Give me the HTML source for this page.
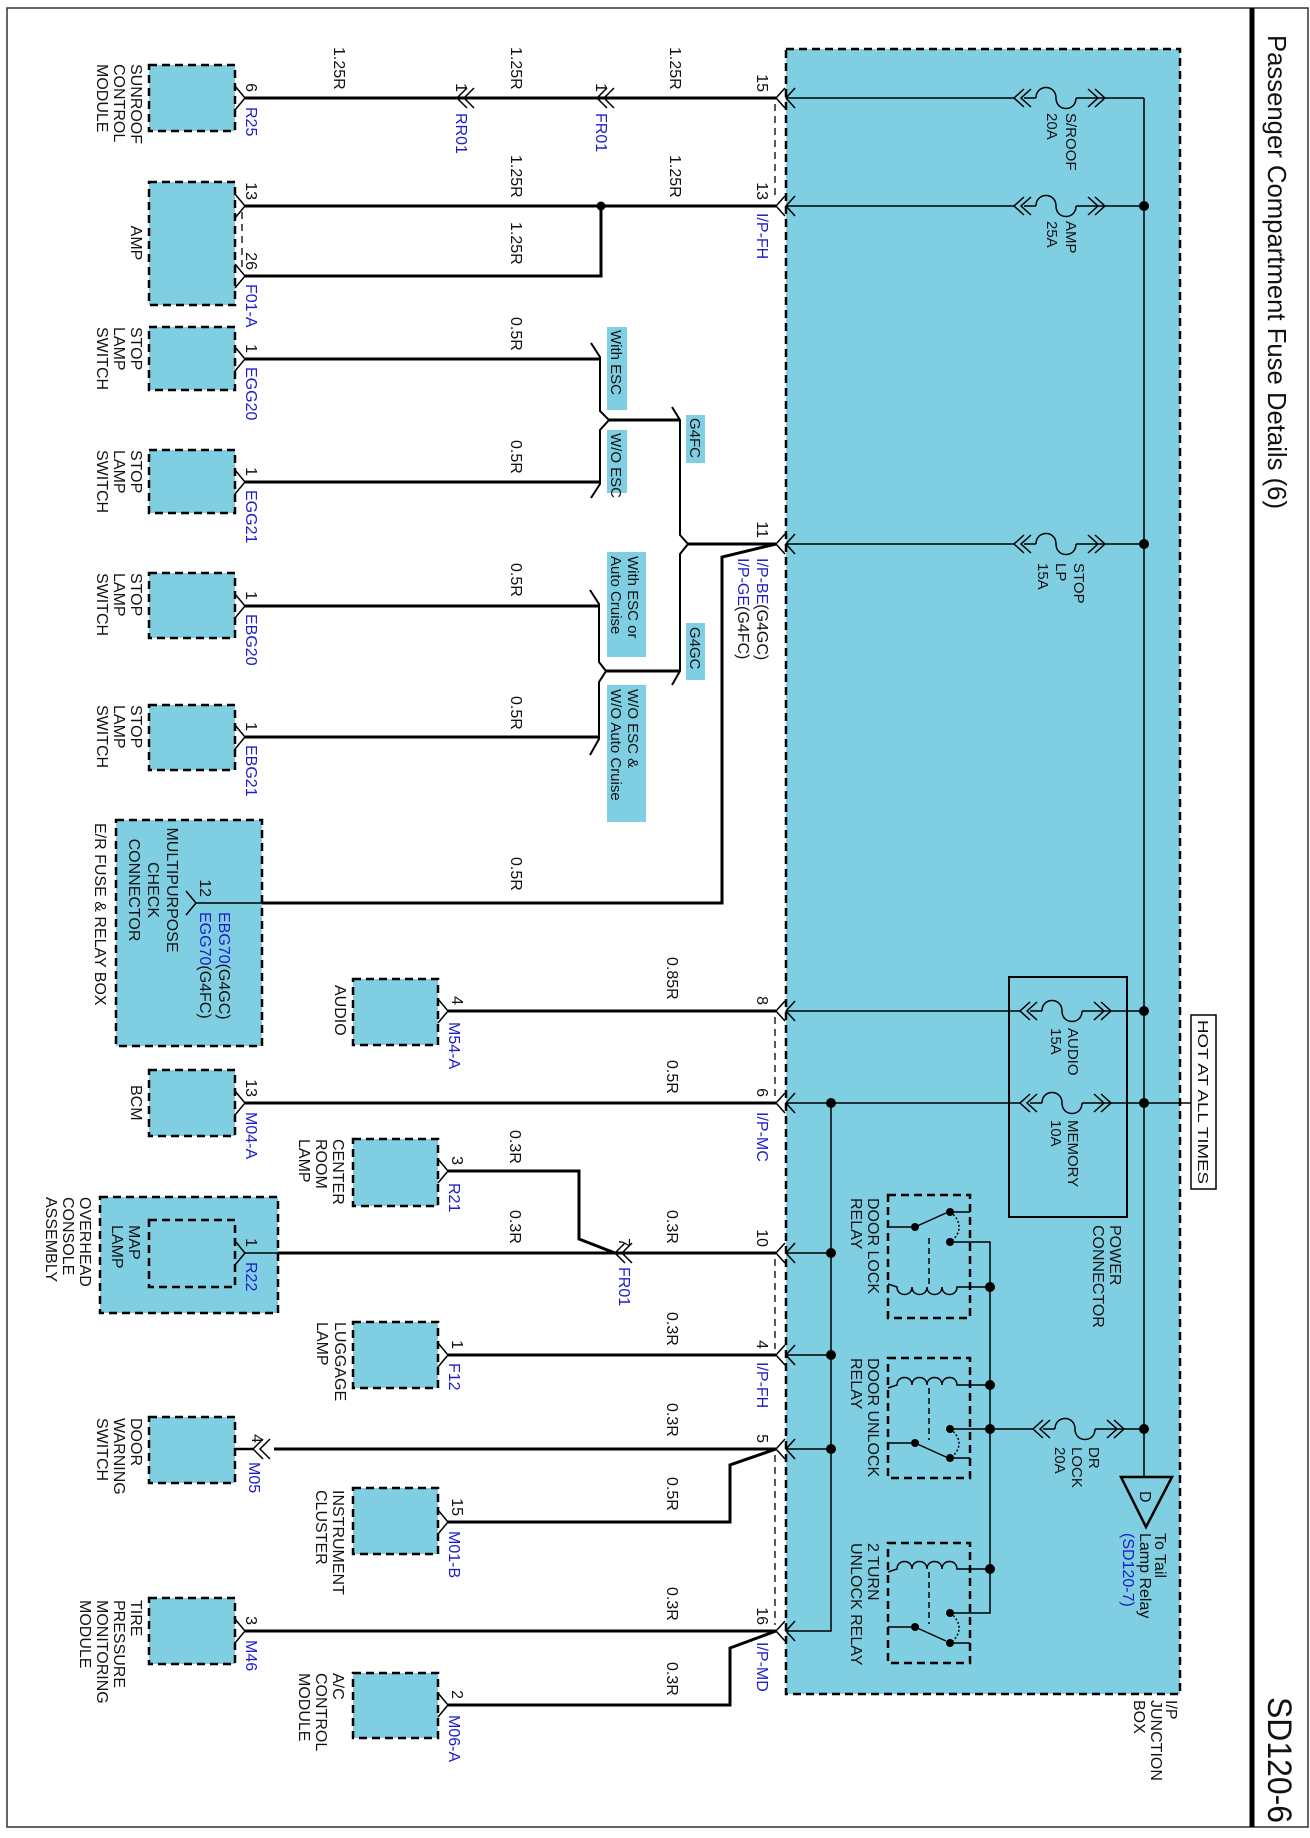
<!DOCTYPE html>
<html><head><meta charset="utf-8"><style>
html,body{margin:0;padding:0;background:#fff}
svg{display:block}
text{font-family:"Liberation Sans",Arial,sans-serif;font-size:16px;fill:#111}
.b{fill:#1c1cc8}
.s{font-size:15px}
.wl text{font-size:16px}
.w{stroke:#000;stroke-width:3;fill:none}
.n{stroke:#000;stroke-width:1.5;fill:none}
.box{fill:#80cee1;stroke:#000;stroke-width:2.5;stroke-dasharray:8,5}
.dl{stroke:#000;stroke-width:1.3;stroke-dasharray:7,5;fill:none}
</style></head><body>
<svg width="1310" height="1838" viewBox="0 0 1310 1838" xmlns="http://www.w3.org/2000/svg">
<rect x="7" y="8" width="1301" height="1819" fill="none" stroke="#333" stroke-width="1.5"/>
<line x1="1252" y1="8" x2="1252" y2="1827" stroke="#000" stroke-width="5"/>
<text transform="translate(1268,35) rotate(90)" style="font-size:26px" textLength="474" lengthAdjust="spacingAndGlyphs">Passenger Compartment Fuse Details (6)</text>
<text transform="translate(1268,1697) rotate(90)" style="font-size:34px" textLength="126" lengthAdjust="spacingAndGlyphs">SD120-6</text>

<rect class="box" x="786" y="49" width="394" height="1645"/>

<rect class="box" x="149" y="65" width="86" height="66"/>
<rect class="box" x="149" y="182" width="86" height="123"/>
<rect class="box" x="149" y="327" width="86" height="63"/>
<rect class="box" x="149" y="450" width="86" height="63"/>
<rect class="box" x="149" y="573" width="86" height="65"/>
<rect class="box" x="149" y="705" width="86" height="65"/>
<rect class="box" x="116" y="820" width="146" height="226"/>
<rect class="box" x="353" y="979" width="85" height="66"/>
<rect class="box" x="149" y="1070" width="86" height="66"/>
<rect class="box" x="353" y="1139" width="85" height="67"/>
<rect class="box" x="100" y="1197" width="178" height="116"/>
<rect class="box" x="149" y="1220" width="86" height="67"/>
<rect class="box" x="353" y="1322" width="85" height="66"/>
<rect class="box" x="149" y="1417" width="86" height="66"/>
<rect class="box" x="353" y="1488" width="85" height="66"/>
<rect class="box" x="149" y="1598" width="86" height="66"/>
<rect class="box" x="353" y="1673" width="85" height="65"/>

<g class="n">
<polyline points="235,86 245,98 235,110"/>
<polyline points="235,194 245,206 235,218"/>
<polyline points="235,264 245,276 235,288"/>
<polyline points="235,347 245,359 235,371"/>
<polyline points="235,470 245,482 235,494"/>
<polyline points="235,594 245,606 235,618"/>
<polyline points="235,725 245,737 235,749"/>
<polyline points="186,891 196,903 186,915"/>
<polyline points="438,999 448,1011 438,1023"/>
<polyline points="235,1091 245,1103 235,1115"/>
<polyline points="438,1159 448,1171 438,1183"/>
<polyline points="235,1241 245,1253 235,1265"/>
<polyline points="438,1343 448,1355 438,1367"/>
<polyline points="438,1510 448,1522 438,1534"/>
<polyline points="235,1619 245,1631 235,1643"/>
<polyline points="438,1693 448,1705 438,1717"/>
<line x1="242" y1="212" x2="242" y2="270" class="dl"/>
<polyline points="467,88 457,98 467,108"/><polyline points="474,88 464,98 474,108"/>
<polyline points="607,88 597,98 607,108"/><polyline points="614,88 604,98 614,108"/>
<polyline points="625,1243 615,1253 625,1263"/><polyline points="632,1243 622,1253 632,1263"/>
<polyline points="263,1439 253,1449 263,1459"/><polyline points="270,1439 260,1449 270,1459"/>
<line x1="235" y1="1449" x2="253" y2="1449" style="stroke-width:2.5"/>
</g>

<g class="n">
<polyline points="785,88 776,98 785,108"/><polyline points="795,88 786,98 795,108"/>
<polyline points="785,196 776,206 785,216"/><polyline points="795,196 786,206 795,216"/>
<polyline points="785,534 776,544 785,554"/><polyline points="795,534 786,544 795,554"/>
<polyline points="785,1001 776,1011 785,1021"/><polyline points="795,1001 786,1011 795,1021"/>
<polyline points="785,1093 776,1103 785,1113"/><polyline points="795,1093 786,1103 795,1113"/>
<polyline points="785,1243 776,1253 785,1263"/><polyline points="795,1243 786,1253 795,1263"/>
<polyline points="785,1345 776,1355 785,1365"/><polyline points="795,1345 786,1355 795,1365"/>
<polyline points="785,1439 776,1449 785,1459"/><polyline points="795,1439 786,1449 795,1459"/>
<polyline points="785,1621 776,1631 785,1641"/><polyline points="795,1621 786,1631 795,1641"/>
</g>
<line x1="775" y1="104" x2="775" y2="200" class="dl"/>
<line x1="775" y1="1017" x2="775" y2="1097" class="dl"/>
<line x1="775" y1="1259" x2="775" y2="1349" class="dl"/>
<line x1="775" y1="1455" x2="775" y2="1625" class="dl"/>

<g class="w">
<line x1="245" y1="98" x2="776" y2="98"/>
<line x1="245" y1="206" x2="776" y2="206"/>
<polyline points="601,206 601,276 245,276"/>
<line x1="245" y1="359" x2="600" y2="359"/>
<line x1="245" y1="482" x2="600" y2="482"/>
<line x1="245" y1="606" x2="599" y2="606"/>
<line x1="245" y1="737" x2="599" y2="737"/>
<line x1="609" y1="420" x2="680" y2="420"/>
<line x1="606" y1="671" x2="680" y2="671"/>
<line x1="688" y1="544" x2="776" y2="544"/>
<polyline points="776,544 722,557 722,903 262,903"/>
<line x1="448" y1="1011" x2="776" y2="1011"/>
<line x1="245" y1="1103" x2="776" y2="1103"/>
<polyline points="448,1171 579,1171 579,1239 615,1253"/>
<line x1="278" y1="1253" x2="776" y2="1253"/>
<line x1="448" y1="1355" x2="776" y2="1355"/>
<line x1="274" y1="1449" x2="776" y2="1449"/>
<polyline points="776,1449 730,1465 730,1522 448,1522"/>
<line x1="245" y1="1631" x2="776" y2="1631"/>
<polyline points="776,1631 730,1648 730,1705 448,1705"/>
</g>
<line x1="196" y1="903" x2="262" y2="903" class="n"/>
<line x1="245" y1="1253" x2="278" y2="1253" class="n"/>
<circle cx="601" cy="206" r="4.5"/>

<g class="n" style="stroke-width:2">
<polyline points="591,343 600,357 600,411 609,420 600,430 600,484 591,498"/>
<polyline points="590,590 599,604 599,662 606,671 599,682 599,739 590,755"/>
<polyline points="672,407 680,420 680,535 688,544 680,554 680,671 672,685"/>
</g>
<g>
<rect x="607" y="327" width="20" height="83" fill="#80cee1"/>
<rect x="607" y="430" width="20" height="63" fill="#80cee1"/>
<rect x="686" y="415" width="19" height="48" fill="#80cee1"/>
<rect x="686" y="623" width="19" height="57" fill="#80cee1"/>
<rect x="607" y="552" width="39" height="105" fill="#80cee1"/>
<rect x="607" y="685" width="39" height="137" fill="#80cee1"/>
</g>
<g>
<text class="s" transform="translate(611,330) rotate(90)">With ESC</text>
<text class="s" transform="translate(611,433) rotate(90)">W/O ESC</text>
<text class="s" transform="translate(690,418) rotate(90)">G4FC</text>
<text class="s" transform="translate(690,627) rotate(90)">G4GC</text>
<text class="s" transform="translate(628,556) rotate(90)">With ESC or</text>
<text class="s" transform="translate(611,556) rotate(90)">Auto Cruise</text>
<text class="s" transform="translate(628,689) rotate(90)">W/O ESC &amp;</text>
<text class="s" transform="translate(611,689) rotate(90)">W/O Auto Cruise</text>
</g>

<g class="n">
<line x1="786" y1="98" x2="1014" y2="98"/><line x1="1105" y1="98" x2="1144" y2="98"/>
<line x1="786" y1="206" x2="1014" y2="206"/><line x1="1105" y1="206" x2="1144" y2="206"/>
<line x1="786" y1="544" x2="1014" y2="544"/><line x1="1105" y1="544" x2="1144" y2="544"/>
<line x1="786" y1="1011" x2="1020" y2="1011"/><line x1="1111" y1="1011" x2="1144" y2="1011"/>
<line x1="786" y1="1103" x2="1020" y2="1103"/><line x1="1111" y1="1103" x2="1191" y2="1103"/>
<line x1="786" y1="1253" x2="831" y2="1253"/>
<line x1="786" y1="1355" x2="831" y2="1355"/>
<line x1="786" y1="1449" x2="831" y2="1449"/>
<polyline points="786,1631 831,1631 831,1103"/>
<line x1="1144" y1="98" x2="1144" y2="1477"/>
<line x1="990" y1="1429" x2="1033" y2="1429"/><line x1="1124" y1="1429" x2="1144" y2="1429"/>
<polyline points="950,1242 990,1242 990,1613 950,1613"/>
<line x1="950" y1="1429" x2="990" y2="1429"/>
</g>
<rect x="1009" y="977" width="118" height="240" fill="none" stroke="#000" stroke-width="2"/>
<rect x="1191" y="1015" width="25" height="174" fill="#fff" stroke="#000" stroke-width="1.5"/>
<text class="s" transform="translate(1198,1020) rotate(90)" textLength="164" lengthAdjust="spacingAndGlyphs">HOT AT ALL TIMES</text>

<g class="n">
<g transform="translate(1014,98)"><polyline points="10,-9 0,0 10,9"/><polyline points="17,-9 7,0 17,9"/><line x1="10" y1="0" x2="22" y2="0"/><path d="M22,0 C22,-14 42,-14 42,0 C42,14 62,14 62,0"/><line x1="62" y1="0" x2="91" y2="0"/><polyline points="74,-9 84,0 74,9"/><polyline points="81,-9 91,0 81,9"/></g>
<g transform="translate(1014,206)"><polyline points="10,-9 0,0 10,9"/><polyline points="17,-9 7,0 17,9"/><line x1="10" y1="0" x2="22" y2="0"/><path d="M22,0 C22,-14 42,-14 42,0 C42,14 62,14 62,0"/><line x1="62" y1="0" x2="91" y2="0"/><polyline points="74,-9 84,0 74,9"/><polyline points="81,-9 91,0 81,9"/></g>
<g transform="translate(1014,544)"><polyline points="10,-9 0,0 10,9"/><polyline points="17,-9 7,0 17,9"/><line x1="10" y1="0" x2="22" y2="0"/><path d="M22,0 C22,-14 42,-14 42,0 C42,14 62,14 62,0"/><line x1="62" y1="0" x2="91" y2="0"/><polyline points="74,-9 84,0 74,9"/><polyline points="81,-9 91,0 81,9"/></g>
<g transform="translate(1020,1011)"><polyline points="10,-9 0,0 10,9"/><polyline points="17,-9 7,0 17,9"/><line x1="10" y1="0" x2="22" y2="0"/><path d="M22,0 C22,-14 42,-14 42,0 C42,14 62,14 62,0"/><line x1="62" y1="0" x2="91" y2="0"/><polyline points="74,-9 84,0 74,9"/><polyline points="81,-9 91,0 81,9"/></g>
<g transform="translate(1020,1103)"><polyline points="10,-9 0,0 10,9"/><polyline points="17,-9 7,0 17,9"/><line x1="10" y1="0" x2="22" y2="0"/><path d="M22,0 C22,-14 42,-14 42,0 C42,14 62,14 62,0"/><line x1="62" y1="0" x2="91" y2="0"/><polyline points="74,-9 84,0 74,9"/><polyline points="81,-9 91,0 81,9"/></g>
<g transform="translate(1033,1429)"><polyline points="10,-9 0,0 10,9"/><polyline points="17,-9 7,0 17,9"/><line x1="10" y1="0" x2="22" y2="0"/><path d="M22,0 C22,-14 42,-14 42,0 C42,14 62,14 62,0"/><line x1="62" y1="0" x2="91" y2="0"/><polyline points="74,-9 84,0 74,9"/><polyline points="81,-9 91,0 81,9"/></g>
</g>
<g>
<circle cx="1144" cy="206" r="5"/><circle cx="1144" cy="544" r="5"/><circle cx="1144" cy="1011" r="5"/><circle cx="1144" cy="1103" r="5"/><circle cx="1144" cy="1429" r="5"/>
<circle cx="831" cy="1103" r="5"/><circle cx="831" cy="1253" r="5"/><circle cx="831" cy="1355" r="5"/><circle cx="831" cy="1449" r="5"/>
<circle cx="990" cy="1287" r="5"/><circle cx="990" cy="1385" r="5"/><circle cx="990" cy="1429" r="5"/><circle cx="990" cy="1569" r="5"/>
</g>
<polygon points="1121,1477 1172,1477 1146,1527" fill="none" stroke="#000" stroke-width="2.5"/>
<text transform="translate(1140,1491) rotate(90)">D</text>

<g>
<rect x="888" y="1195" width="82" height="123" fill="none" stroke="#000" stroke-width="2.5" stroke-dasharray="8,5"/>
<rect x="888" y="1358" width="82" height="120" fill="none" stroke="#000" stroke-width="2.5" stroke-dasharray="8,5"/>
<rect x="888" y="1543" width="82" height="120" fill="none" stroke="#000" stroke-width="2.5" stroke-dasharray="8,5"/>
<g class="n">
<line x1="888" y1="1227" x2="915" y2="1227"/><line x1="915" y1="1227" x2="946" y2="1213"/><line x1="950" y1="1212" x2="970" y2="1212"/>
<path d="M950,1212 C962,1220 962,1234 950,1242" stroke-dasharray="2,2"/>
<line x1="929" y1="1238" x2="929" y2="1284" stroke-dasharray="6,4"/>
<path d="M888,1284 L897,1287 C897,1297 912,1297 912,1287 C912,1297 927,1297 927,1287 C927,1297 942,1297 942,1287 C942,1297 957,1297 957,1287 L990,1287"/>
<path d="M888,1388 L897,1385 C897,1375 912,1375 912,1385 C912,1375 927,1375 927,1385 C927,1375 942,1375 942,1385 C942,1375 957,1375 957,1385 L990,1385"/>
<line x1="929" y1="1388" x2="929" y2="1440" stroke-dasharray="6,4"/>
<line x1="888" y1="1443" x2="915" y2="1443"/><line x1="915" y1="1443" x2="946" y2="1457"/><line x1="950" y1="1458" x2="970" y2="1458"/>
<path d="M950,1429 C962,1437 962,1450 950,1458" stroke-dasharray="2,2"/>
<path d="M888,1572 L897,1569 C897,1559 912,1559 912,1569 C912,1559 927,1559 927,1569 C927,1559 942,1559 942,1569 C942,1559 957,1559 957,1569 L990,1569"/>
<line x1="929" y1="1572" x2="929" y2="1624" stroke-dasharray="6,4"/>
<line x1="888" y1="1627" x2="915" y2="1627"/><line x1="915" y1="1627" x2="946" y2="1641"/><line x1="950" y1="1643" x2="970" y2="1643"/>
<path d="M950,1613 C962,1621 962,1635 950,1643" stroke-dasharray="2,2"/>
</g>
<circle cx="915" cy="1227" r="4"/><circle cx="950" cy="1212" r="4"/><circle cx="950" cy="1242" r="4"/>
<circle cx="950" cy="1429" r="4"/><circle cx="915" cy="1443" r="4"/><circle cx="950" cy="1458" r="4"/>
<circle cx="950" cy="1613" r="4"/><circle cx="915" cy="1627" r="4"/><circle cx="950" cy="1643" r="4"/>
</g>

<g>
<text class="s" transform="translate(1066,113) rotate(90)">S/ROOF</text><text class="s" transform="translate(1047,113) rotate(90)">20A</text>
<text class="s" transform="translate(1066,221) rotate(90)">AMP</text><text class="s" transform="translate(1047,221) rotate(90)">25A</text>
<text class="s" transform="translate(1074,563) rotate(90)">STOP</text><text class="s" transform="translate(1056,563) rotate(90)">LP</text><text class="s" transform="translate(1038,563) rotate(90)">15A</text>
<text class="s" transform="translate(1068,1028) rotate(90)">AUDIO</text><text class="s" transform="translate(1051,1028) rotate(90)">15A</text>
<text class="s" transform="translate(1068,1120) rotate(90)">MEMORY</text><text class="s" transform="translate(1051,1120) rotate(90)">10A</text>
<text class="s" transform="translate(1089,1447) rotate(90)">DR</text><text class="s" transform="translate(1072,1447) rotate(90)">LOCK</text><text class="s" transform="translate(1055,1447) rotate(90)">20A</text>
</g>
<text transform="translate(1110,1225) rotate(90)">POWER</text><text transform="translate(1093,1225) rotate(90)">CONNECTOR</text>
<text transform="translate(868,1198) rotate(90)">DOOR LOCK</text><text transform="translate(851,1198) rotate(90)">RELAY</text>
<text transform="translate(868,1358) rotate(90)">DOOR UNLOCK</text><text transform="translate(851,1358) rotate(90)">RELAY</text>
<text transform="translate(868,1543) rotate(90)">2 TURN</text><text transform="translate(851,1543) rotate(90)">UNLOCK RELAY</text>
<text transform="translate(1155,1533) rotate(90)">To Tail</text><text transform="translate(1140,1533) rotate(90)">Lamp Relay</text><text class="b" transform="translate(1123,1533) rotate(90)">(SD120-7)</text>
<text transform="translate(1166,1700) rotate(90)">I/P</text><text transform="translate(1151,1700) rotate(90)">JUNCTION</text><text transform="translate(1134,1700) rotate(90)">BOX</text>

<g text-anchor="end">
<text transform="translate(757,92) rotate(90)">15</text>
<text transform="translate(757,200) rotate(90)">13</text>
<text transform="translate(757,538) rotate(90)">11</text>
<text transform="translate(757,1005) rotate(90)">8</text>
<text transform="translate(757,1097) rotate(90)">6</text>
<text transform="translate(757,1247) rotate(90)">10</text>
<text transform="translate(757,1349) rotate(90)">4</text>
<text transform="translate(757,1443) rotate(90)">5</text>
<text transform="translate(757,1625) rotate(90)">16</text>
</g>
<text class="b" transform="translate(757,213) rotate(90)">I/P-FH</text>
<text transform="translate(757,558) rotate(90)"><tspan class="b">I/P-BE</tspan>(G4GC)</text>
<text transform="translate(738,558) rotate(90)"><tspan class="b">I/P-GE</tspan>(G4FC)</text>
<text class="b" transform="translate(757,1112) rotate(90)">I/P-MC</text>
<text class="b" transform="translate(757,1362) rotate(90)">I/P-FH</text>
<text class="b" transform="translate(757,1642) rotate(90)">I/P-MD</text>

<g class="wl">
<text transform="translate(334,47) rotate(90)">1.25R</text>
<text transform="translate(511,47) rotate(90)">1.25R</text>
<text transform="translate(670,47) rotate(90)">1.25R</text>
<text transform="translate(511,155) rotate(90)">1.25R</text>
<text transform="translate(670,155) rotate(90)">1.25R</text>
<text transform="translate(511,222) rotate(90)">1.25R</text>
<text transform="translate(511,317) rotate(90)">0.5R</text>
<text transform="translate(511,440) rotate(90)">0.5R</text>
<text transform="translate(511,563) rotate(90)">0.5R</text>
<text transform="translate(511,696) rotate(90)">0.5R</text>
<text transform="translate(511,857) rotate(90)">0.5R</text>
<text transform="translate(667,957) rotate(90)">0.85R</text>
<text transform="translate(667,1060) rotate(90)">0.5R</text>
<text transform="translate(510,1130) rotate(90)">0.3R</text>
<text transform="translate(510,1210) rotate(90)">0.3R</text>
<text transform="translate(667,1210) rotate(90)">0.3R</text>
<text transform="translate(667,1312) rotate(90)">0.3R</text>
<text transform="translate(667,1403) rotate(90)">0.3R</text>
<text transform="translate(667,1477) rotate(90)">0.5R</text>
<text transform="translate(667,1587) rotate(90)">0.3R</text>
<text transform="translate(667,1662) rotate(90)">0.3R</text>
</g>

<g text-anchor="end">
<text transform="translate(246,92) rotate(90)">6</text>
<text transform="translate(456,92) rotate(90)">1</text>
<text transform="translate(596,92) rotate(90)">1</text>
<text transform="translate(246,200) rotate(90)">13</text>
<text transform="translate(246,270) rotate(90)">26</text>
<text transform="translate(246,353) rotate(90)">1</text>
<text transform="translate(246,476) rotate(90)">1</text>
<text transform="translate(246,600) rotate(90)">1</text>
<text transform="translate(246,731) rotate(90)">1</text>
<text transform="translate(200,897) rotate(90)">12</text>
<text transform="translate(452,1005) rotate(90)">4</text>
<text transform="translate(246,1097) rotate(90)">13</text>
<text transform="translate(452,1165) rotate(90)">3</text>
<text transform="translate(619,1247) rotate(90)">7</text>
<text transform="translate(246,1247) rotate(90)">1</text>
<text transform="translate(452,1349) rotate(90)">1</text>
<text transform="translate(252,1443) rotate(90)">4</text>
<text transform="translate(452,1516) rotate(90)">15</text>
<text transform="translate(246,1625) rotate(90)">3</text>
<text transform="translate(452,1699) rotate(90)">2</text>
</g>
<g>
<text class="b" transform="translate(246,107) rotate(90)">R25</text>
<text class="b" transform="translate(456,113) rotate(90)">RR01</text>
<text class="b" transform="translate(596,113) rotate(90)">FR01</text>
<text class="b" transform="translate(246,284) rotate(90)">F01-A</text>
<text class="b" transform="translate(246,367) rotate(90)">EGG20</text>
<text class="b" transform="translate(246,490) rotate(90)">EGG21</text>
<text class="b" transform="translate(246,614) rotate(90)">EBG20</text>
<text class="b" transform="translate(246,745) rotate(90)">EBG21</text>
<text transform="translate(219,912) rotate(90)"><tspan class="b">EBG70</tspan>(G4GC)</text>
<text transform="translate(200,912) rotate(90)"><tspan class="b">EGG70</tspan>(G4FC)</text>
<text class="b" transform="translate(449,1022) rotate(90)">M54-A</text>
<text class="b" transform="translate(246,1112) rotate(90)">M04-A</text>
<text class="b" transform="translate(449,1183) rotate(90)">R21</text>
<text class="b" transform="translate(246,1262) rotate(90)">R22</text>
<text class="b" transform="translate(619,1267) rotate(90)">FR01</text>
<text class="b" transform="translate(449,1363) rotate(90)">F12</text>
<text class="b" transform="translate(249,1462) rotate(90)">M05</text>
<text class="b" transform="translate(449,1531) rotate(90)">M01-B</text>
<text class="b" transform="translate(246,1640) rotate(90)">M46</text>
<text class="b" transform="translate(449,1715) rotate(90)">M06-A</text>
</g>

<g>
<text transform="translate(131,64) rotate(90)">SUNROOF</text><text transform="translate(114,64) rotate(90)">CONTROL</text><text transform="translate(97,64) rotate(90)">MODULE</text>
<text transform="translate(131,243) rotate(90)" text-anchor="middle">AMP</text>
<text transform="translate(131,327) rotate(90)">STOP</text><text transform="translate(114,327) rotate(90)">LAMP</text><text transform="translate(97,327) rotate(90)">SWITCH</text>
<text transform="translate(131,450) rotate(90)">STOP</text><text transform="translate(114,450) rotate(90)">LAMP</text><text transform="translate(97,450) rotate(90)">SWITCH</text>
<text transform="translate(131,573) rotate(90)">STOP</text><text transform="translate(114,573) rotate(90)">LAMP</text><text transform="translate(97,573) rotate(90)">SWITCH</text>
<text transform="translate(131,705) rotate(90)">STOP</text><text transform="translate(114,705) rotate(90)">LAMP</text><text transform="translate(97,705) rotate(90)">SWITCH</text>
<text transform="translate(167,890) rotate(90)" text-anchor="middle">MULTIPURPOSE</text>
<text transform="translate(148,890) rotate(90)" text-anchor="middle">CHECK</text>
<text transform="translate(129,890) rotate(90)" text-anchor="middle">CONNECTOR</text>
<text transform="translate(95,823) rotate(90)">E/R FUSE &amp; RELAY BOX</text>
<text transform="translate(335,985) rotate(90)">AUDIO</text>
<text transform="translate(131,1085) rotate(90)">BCM</text>
<text transform="translate(333,1139) rotate(90)">CENTER</text><text transform="translate(316,1139) rotate(90)">ROOM</text><text transform="translate(299,1139) rotate(90)">LAMP</text>
<text transform="translate(129,1225) rotate(90)">MAP</text><text transform="translate(112,1225) rotate(90)">LAMP</text>
<text transform="translate(80,1197) rotate(90)">OVERHEAD</text><text transform="translate(63,1197) rotate(90)">CONSOLE</text><text transform="translate(46,1197) rotate(90)">ASSEMBLY</text>
<text transform="translate(335,1322) rotate(90)">LUGGAGE</text><text transform="translate(317,1322) rotate(90)">LAMP</text>
<text transform="translate(131,1418) rotate(90)">DOOR</text><text transform="translate(114,1418) rotate(90)">WARNING</text><text transform="translate(97,1418) rotate(90)">SWITCH</text>
<text transform="translate(333,1490) rotate(90)">INSTRUMENT</text><text transform="translate(316,1490) rotate(90)">CLUSTER</text>
<text transform="translate(131,1600) rotate(90)">TIRE</text><text transform="translate(114,1600) rotate(90)">PRESSURE</text><text transform="translate(97,1600) rotate(90)">MONITORING</text><text transform="translate(80,1600) rotate(90)">MODULE</text>
<text transform="translate(333,1673) rotate(90)">A/C</text><text transform="translate(316,1673) rotate(90)">CONTROL</text><text transform="translate(299,1673) rotate(90)">MODULE</text>
</g>
</svg>
</body></html>
